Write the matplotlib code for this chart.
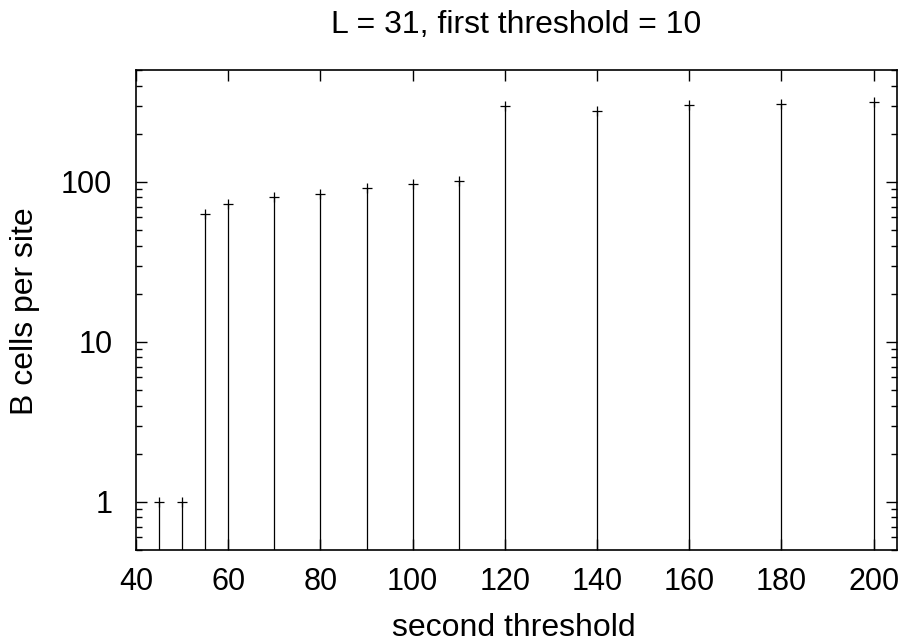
import matplotlib
matplotlib.use("Agg")
import matplotlib.pyplot as plt
from matplotlib.ticker import LogLocator, NullFormatter, FixedLocator

plt.rcParams['font.family'] = ['Liberation Sans', 'DejaVu Sans']

thresholds = [45, 50, 55, 60, 70, 80, 90, 100, 110, 120, 140, 160, 180, 200]
b_cells = [1, 1, 63.5, 72.6, 81, 84, 92, 97, 101.5, 298, 278, 305, 309, 318]
xticks = [40, 60, 80, 100, 120, 140, 160, 180, 200]
yticks = [1, 10, 100]
ytick_labels = ['1', '10', '100']

FS_TICK = 22
FS_LABEL = 23
fig = plt.figure(figsize=(9.04, 6.44), dpi=100)
ax = fig.add_axes([0.1504, 0.146, 0.992 - 0.1504, 0.891 - 0.146])
ax.set_yscale('log')
ax.set_xlim(40, 205)
ax.set_ylim(0.5, 500)

ax.vlines(thresholds, 0.5, b_cells, colors='black', linewidth=0.9)
ax.plot(thresholds, b_cells, linestyle='none', marker='+', color='black',
        markersize=7, markeredgewidth=0.9)

ax.xaxis.set_major_locator(FixedLocator(xticks))
ax.set_xticklabels([str(t) for t in xticks])
ax.yaxis.set_major_locator(FixedLocator(yticks))
ax.set_yticklabels(ytick_labels)
ax.yaxis.set_minor_locator(LogLocator(base=10, subs=range(2, 10)))
ax.yaxis.set_minor_formatter(NullFormatter())

ax.tick_params(which='both', direction='in', top=True, right=True,
               labelsize=FS_TICK, width=1)
ax.tick_params(which='major', length=8)
ax.tick_params(axis='x', which='major', pad=12)
ax.tick_params(axis='y', which='major', pad=17)
ax.tick_params(which='minor', length=4)
for s in ax.spines.values():
    s.set_linewidth(1.2)

fig.text(516 / 904, 1 - 33 / 644, 'L = 31, first threshold = 10', fontsize=FS_LABEL,
         ha='center', va='baseline')
fig.text(514 / 904, 1 - 636 / 644, 'second threshold', fontsize=FS_LABEL,
         ha='center', va='baseline')
fig.text(25 / 904, 1 - 311 / 644, 'B cells per site', fontsize=FS_LABEL,
         ha='center', va='center', rotation=90)

fig.savefig('out.png', dpi=100)
